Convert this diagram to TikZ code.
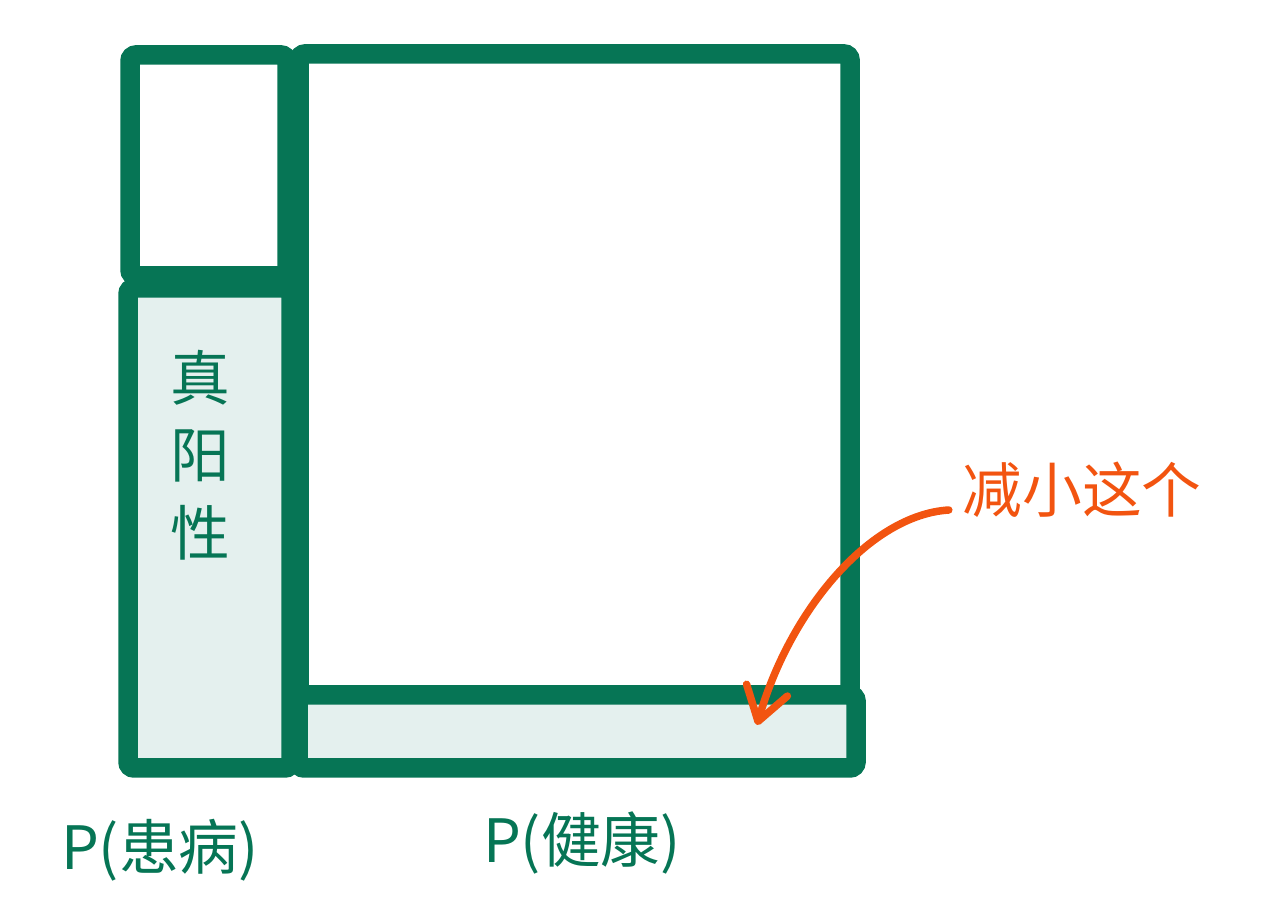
\documentclass[tikz,border=0pt]{standalone}
\usepackage{fontspec}
\newfontfamily\cjk{Noto Sans CJK SC}
\usetikzlibrary{arrows.meta}
\definecolor{boxgreen}{RGB}{6,117,85}
\definecolor{softgreen}{RGB}{228,240,238}
\definecolor{markorange}{RGB}{242,84,16}
\begin{document}
\begin{tikzpicture}[
    frame/.style={draw=boxgreen, line width=0.39cm, rounded corners=0.12cm},
    hand/.style={text=boxgreen, font=\cjk\fontsize{34}{40}\selectfont},
    note/.style={text=markorange, font=\cjk\fontsize{34}{40}\selectfont}
  ]
        \useasboundingbox (0,0) rectangle (25.6,18.16);

        % Left column: P(sick)
        \draw[frame] (2.60,12.64) rectangle (5.74,17.06);
        \draw[frame, fill=softgreen] (2.56,2.80) rectangle (5.82,12.40);
        \node[hand, align=center, font=\cjk\fontsize{34}{44}\selectfont] (tp) at (4.0,9.06) {真\\阳\\性};

        % Right column: P(healthy)
        \draw[frame] (5.98,4.26) rectangle (17.00,17.08);
        \draw[frame, fill=softgreen] (5.96,2.80) rectangle (17.12,4.26);

        % Axis labels
        \node[hand] (sick) at (3.2,1.16) {P(患病)};
        \node[hand] (healthy) at (11.64,1.30) {P(健康)};

        % Annotation
        \node[note] (reduce) at (21.64,8.36) {减小这个};
        \coordinate (tip) at (15.14,3.66);
        \draw[-{Straight Barb[length=0.65cm, width=0.85cm, round]}, markorange, line width=0.15cm, line cap=round]
          ([shift={(-0.15,-0.4)}]reduce.west) .. controls (17.4,7.86) and (15.8,5.96) .. (tip);
\end{tikzpicture}
\end{document}
